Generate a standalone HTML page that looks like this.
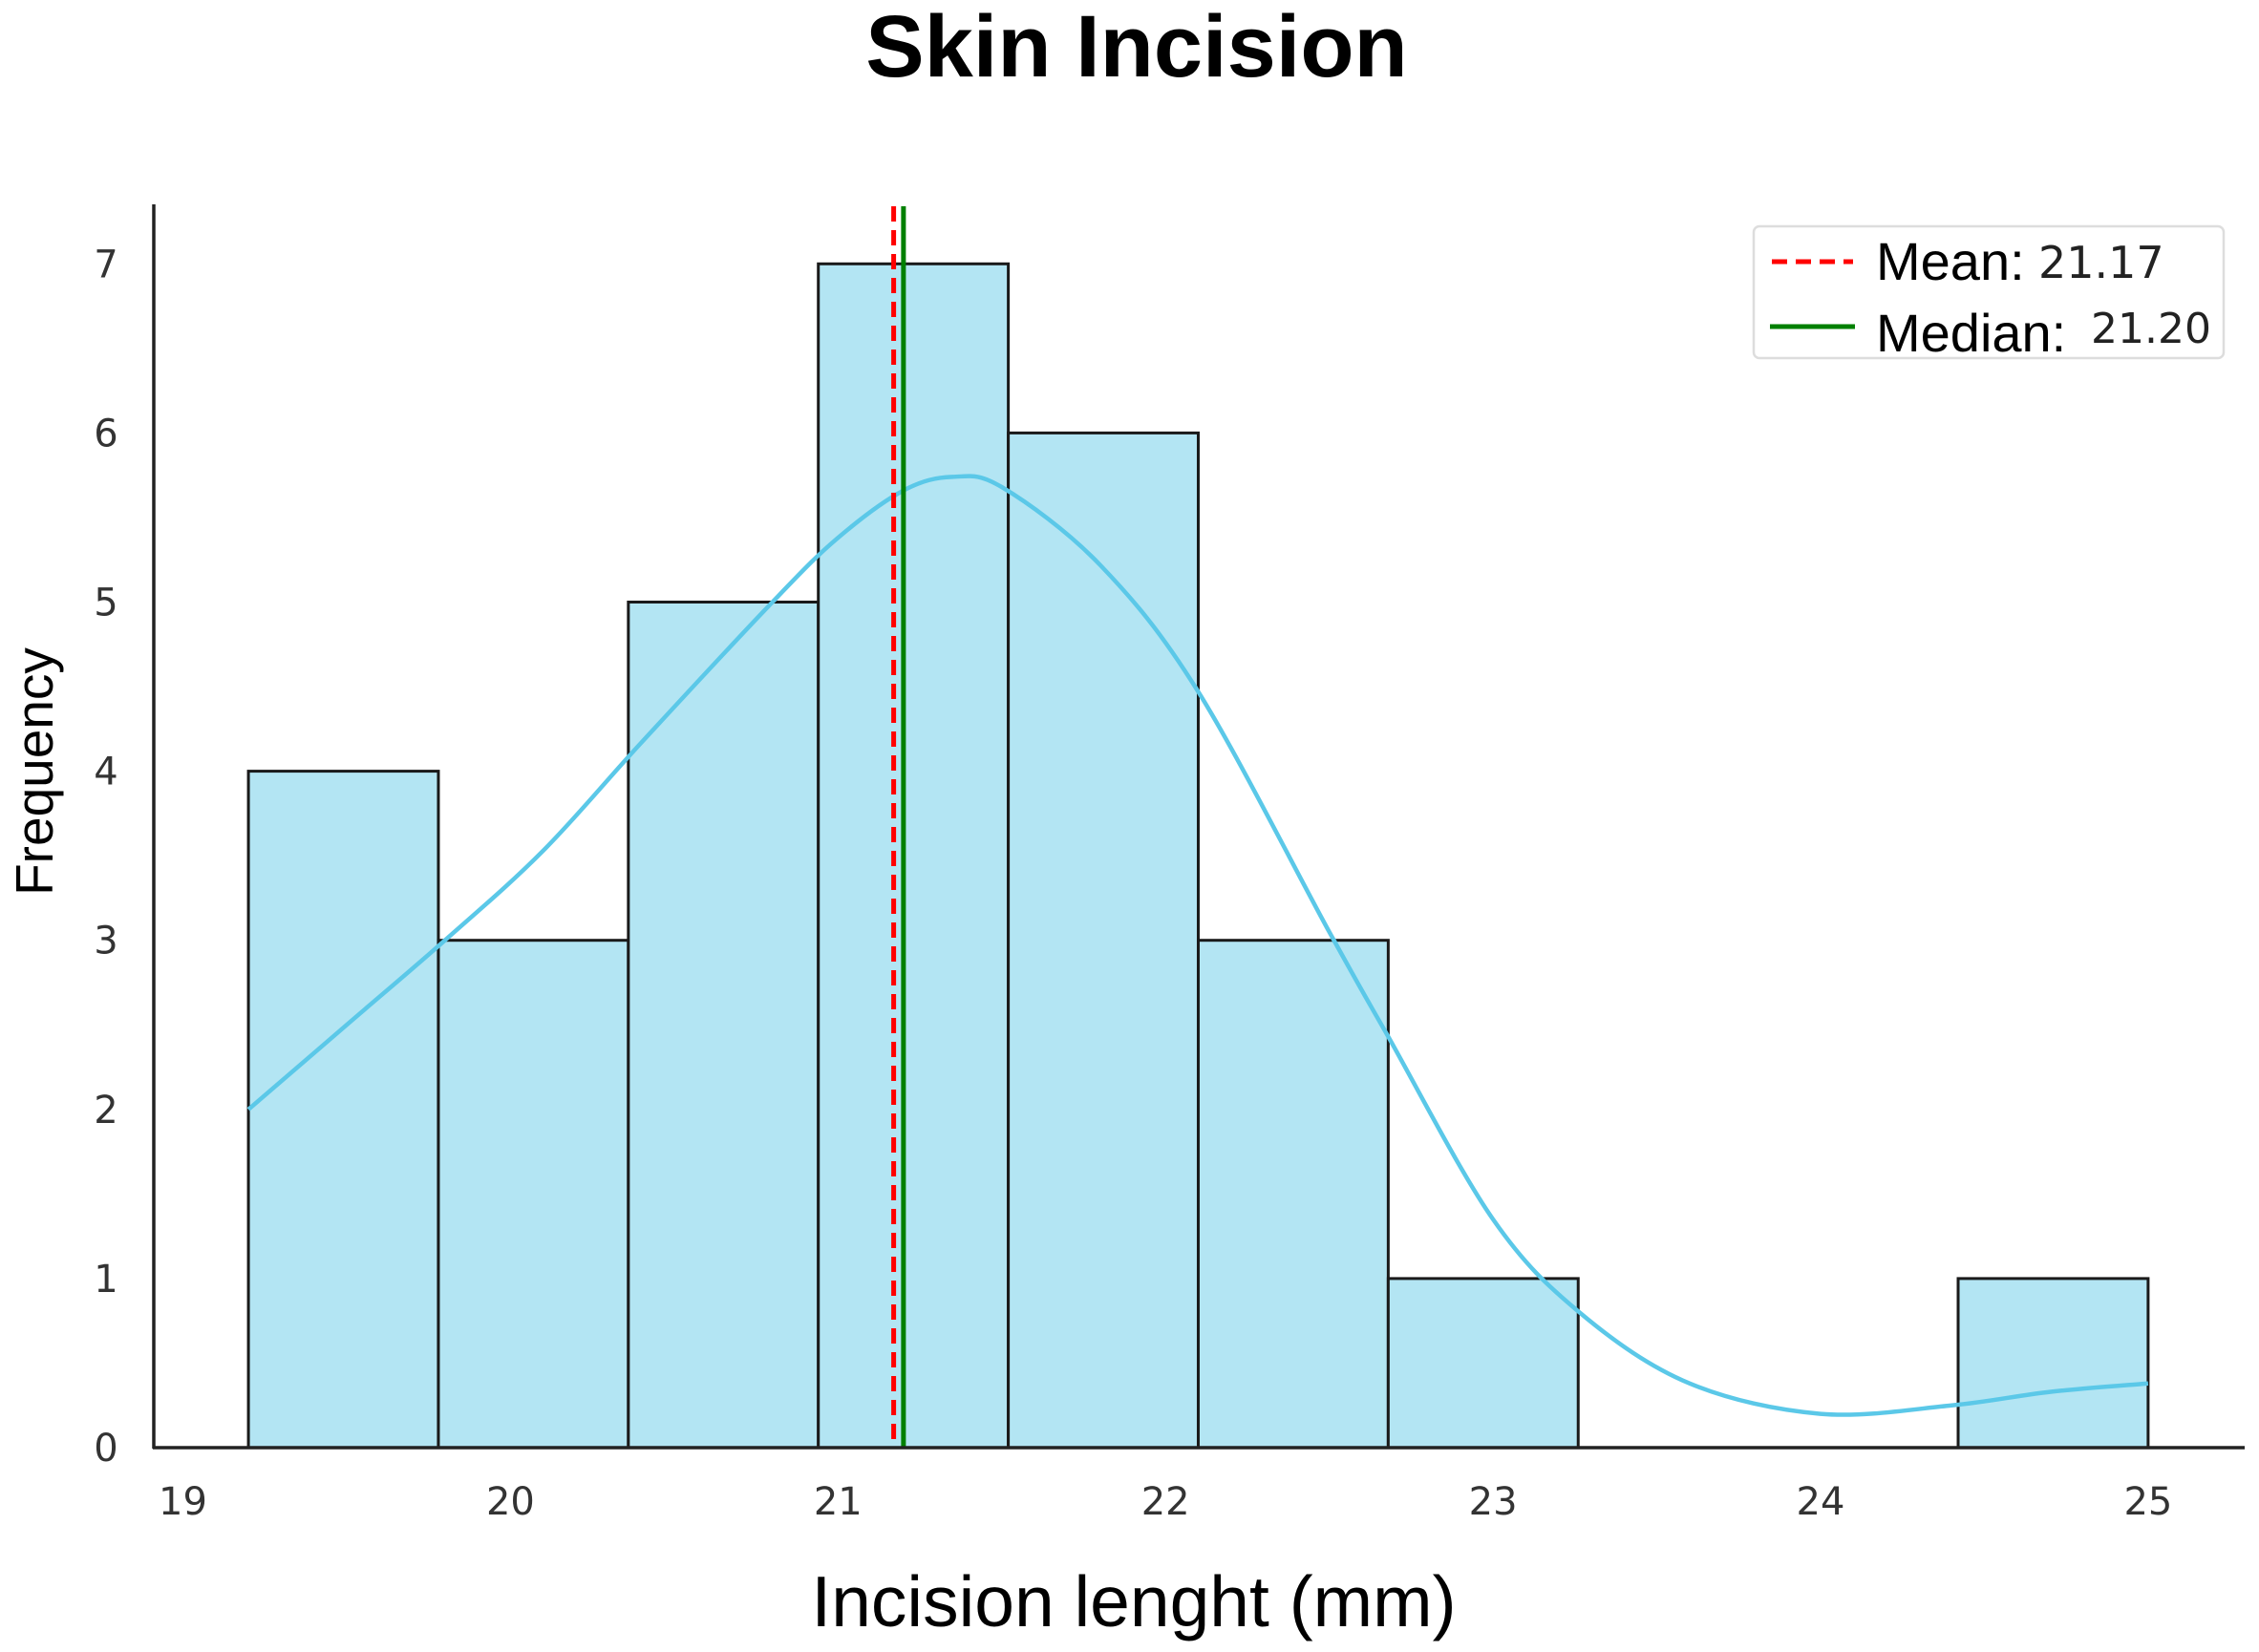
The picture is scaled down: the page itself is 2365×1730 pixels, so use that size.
<!DOCTYPE html>
<html><head><meta charset="utf-8"><style>
html,body{margin:0;padding:0;background:#fff;}
svg{display:block;}
</style></head><body>
<svg id="chart" width="2365" height="1730" viewBox="0 0 2365 1730" xmlns="http://www.w3.org/2000/svg">
<text x="1190" y="80" text-anchor="middle" font-family="Liberation Sans, sans-serif" font-weight="bold" font-size="92" fill="#000">Skin Incision</text>
<g id="bars"></g>
<g id="kde"></g>
<g id="refs"></g>
<line x1="161" y1="214" x2="161" y2="1517" stroke="#222" stroke-width="3.5"/>
<line x1="160" y1="1516" x2="2350" y2="1516" stroke="#222" stroke-width="3.5"/>
<g id="yticks"></g>
<g id="xticks"></g>
<text transform="translate(55,808) rotate(-90)" text-anchor="middle" font-family="Liberation Sans, sans-serif" font-size="55" fill="#000">Frequency</text>
<text x="1187" y="1703" text-anchor="middle" font-family="Liberation Sans, sans-serif" font-size="75" fill="#000">Incision lenght (mm)</text>
<g>
<rect x="1836" y="237" width="492" height="138" rx="6" fill="#fff" stroke="#ddd" stroke-width="2.5"/>
<line x1="1855" y1="274" x2="1940" y2="274" stroke="#ff0000" stroke-width="5" stroke-dasharray="16,9"/>
<text x="1964" y="293" font-family="Liberation Sans, sans-serif" font-size="56" fill="#000">Mean:</text>
<text x="2134" y="291" font-family="DejaVu Sans, sans-serif" font-size="46" fill="#222">21.17</text>
<line x1="1853" y1="342" x2="1942" y2="342" stroke="#008000" stroke-width="5"/>
<text x="1964" y="368" font-family="Liberation Sans, sans-serif" font-size="56" fill="#000">Median:</text>
<text x="2189" y="359" font-family="DejaVu Sans, sans-serif" font-size="44" fill="#222">21.20</text>
</g>
</svg>
<script>
const binStart = 19.2;
const binWidth = 0.58;
const counts = [4, 3, 5, 7, 6, 3, 1, 0, 0, 1];
const kdeX = [19.2, 19.5, 19.8, 20.1, 20.4, 20.8, 21.0, 21.2, 21.35, 21.5, 21.8, 22.1, 22.5, 22.68, 23.0, 23.27, 23.6, 24.0, 24.4, 24.7, 25.0];
const kdeY = [2.0, 2.5, 3.0, 3.53, 4.17, 5.0, 5.38, 5.66, 5.74, 5.68, 5.22, 4.47, 3.05, 2.43, 1.35, 0.79, 0.38, 0.2, 0.25, 0.33, 0.38];
const meanVal = 21.17;
const medianVal = 21.20;
const yTicks = [0, 1, 2, 3, 4, 5, 6, 7];
const xTicks = [19, 20, 21, 22, 23, 24, 25];

const NS = 'http://www.w3.org/2000/svg';
const xs = v => 191.5 + (v - 19) * 342.9;
const ys = v => 1516 - v * 177.1;
function mk(tag, attrs, parent){const e=document.createElementNS(NS,tag);for(const k in attrs)e.setAttribute(k,attrs[k]);parent.appendChild(e);return e;}

const bars = document.getElementById('bars');
counts.forEach((c,i)=>{
  if(c<=0) return;
  const x0 = xs(binStart + i*binWidth), x1 = xs(binStart + (i+1)*binWidth);
  const r = mk('rect',{x:x0,y:ys(c),width:x1-x0,height:ys(0)-ys(c),fill:'#b3e5f3',stroke:'#1a1a1a','stroke-width':3},bars);
  
  
});

const kde = document.getElementById('kde');
const pts = kdeX.map((x,i)=>[xs(x), ys(kdeY[i])]);
let d = 'M' + pts[0][0].toFixed(1) + ' ' + pts[0][1].toFixed(1);
for (let i=0;i<pts.length-1;i++){
  const p0 = pts[Math.max(0,i-1)], p1 = pts[i], p2 = pts[i+1], p3 = pts[Math.min(pts.length-1,i+2)];
  const c1 = [p1[0]+(p2[0]-p0[0])/6, p1[1]+(p2[1]-p0[1])/6];
  const c2 = [p2[0]-(p3[0]-p1[0])/6, p2[1]-(p3[1]-p1[1])/6];
  d += ' C' + c1[0].toFixed(1)+' '+c1[1].toFixed(1)+' '+c2[0].toFixed(1)+' '+c2[1].toFixed(1)+' '+p2[0].toFixed(1)+' '+p2[1].toFixed(1);
}
const p = mk('path',{d:d,fill:'none',stroke:'#5bc8e8','stroke-width':4.5,'stroke-linejoin':'round'},kde);



const refs = document.getElementById('refs');
const ml = mk('line',{x1:xs(medianVal),x2:xs(medianVal),y1:216,y2:1516,stroke:'#008000','stroke-width':5},refs);


const mn = mk('line',{x1:xs(meanVal),x2:xs(meanVal),y1:216,y2:1516,stroke:'#ff0000','stroke-width':5,'stroke-dasharray':'16,9'},refs);



const yt = document.getElementById('yticks');
yTicks.forEach(v=>{
  const t = mk('text',{x:111,y:ys(v)+14,'text-anchor':'middle','font-family':'DejaVu Sans, sans-serif','font-size':40,fill:'#333'},yt);
  t.textContent = v;
  
  
});
const xt = document.getElementById('xticks');
xTicks.forEach(v=>{
  const t = mk('text',{x:xs(v),y:1586,'text-anchor':'middle','font-family':'DejaVu Sans, sans-serif','font-size':40,fill:'#333'},xt);
  t.textContent = v;
  
  
});
</script>
</body></html>
